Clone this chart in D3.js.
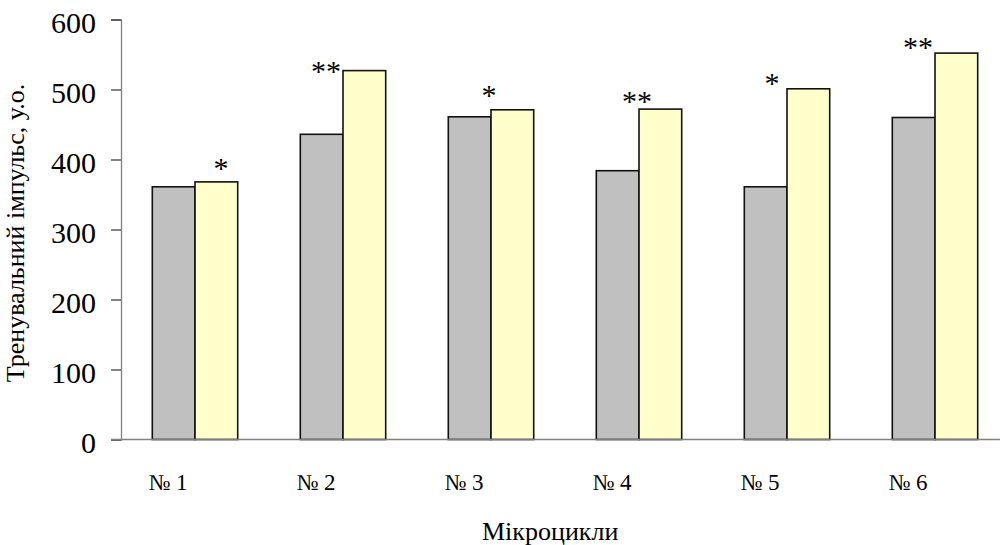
<!DOCTYPE html>
<html>
<head>
<meta charset="utf-8">
<script src="https://cdn.jsdelivr.net/npm/d3@7"></script>
<style>
  body { margin: 0; background: #fff; }
  text { font-family: "Liberation Serif", "Times New Roman", serif; fill: #000; }
</style>
</head>
<body>
<svg id="chart" width="1000" height="545"></svg>
<script>
// categories (microcycles)
let cats = ["№ 1", "№ 2", "№ 3", "№ 4", "№ 5", "№ 6"];
// two series of training impulse, c.u.
let before = [361, 436, 461, 384, 361, 460];
let after = [368, 527, 471, 472, 501, 552];
// significance marks above the bars
let marks = ["*", "**", "*", "**", "*", "**"];
let yTicks = [0, 100, 200, 300, 400, 500, 600];

let svg = d3.select("#chart");

let x0 = d3.scaleBand().domain(cats).range([121, 1009])
    .paddingInner(0.423).paddingOuter(0.2115);
let x1 = d3.scaleBand().domain(["before", "after"]).range([0, x0.bandwidth()]);
let y = d3.scaleLinear().domain([0, 600]).range([439.5, 19.5]);

// y axis
let yAxis = svg.append("g").attr("transform", "translate(121,0)")
    .call(d3.axisLeft(y).tickValues(yTicks).tickSize(10).tickPadding(15));
yAxis.select(".domain").attr("stroke", "#808080").attr("stroke-width", 1.3);
yAxis.selectAll(".tick line").attr("stroke", "#404040").attr("stroke-width", 1.3);
yAxis.selectAll(".tick text")
    .attr("dy", "0.42em")
    .style("font-size", "30px")
    .style("font-family", "'Liberation Serif', serif");

// bars
let groups = svg.append("g").selectAll("g").data(cats).enter().append("g")
    .attr("transform", function(d) { return "translate(" + x0(d) + ",0)"; });

groups.append("rect")
    .attr("x", x1("before"))
    .attr("y", function(d, i) { return y(before[i]); })
    .attr("width", x1.bandwidth())
    .attr("height", function(d, i) { return y(0) - y(before[i]); })
    .attr("fill", "#c0c0c0").attr("stroke", "#111").attr("stroke-width", 1.6);

groups.append("rect")
    .attr("x", x1("after"))
    .attr("y", function(d, i) { return y(after[i]); })
    .attr("width", x1.bandwidth())
    .attr("height", function(d, i) { return y(0) - y(after[i]); })
    .attr("fill", "#ffffcc").attr("stroke", "#111").attr("stroke-width", 1.6);

// x axis line
svg.append("line")
    .attr("x1", 111).attr("x2", 1000)
    .attr("y1", y(0)).attr("y2", y(0))
    .attr("stroke", "#808080").attr("stroke-width", 1.6);

// x labels
svg.append("g").selectAll("text").data(cats).enter().append("text")
    .attr("x", function(d) { return x0(d) + x0.bandwidth() / 2 - 27; })
    .attr("y", 490)
    .attr("text-anchor", "middle")
    .style("font-size", "23px")
    .text(function(d) { return d; });

// stars, nudged like the hand placed boxes of the original
let markDx = [26, -17, -2, -2, -15, -17];
let markGap = [12, -2, 13, 6, 4, 4];
svg.append("g").selectAll("text").data(marks).enter().append("text")
    .attr("x", function(d, i) { return x0(cats[i]) + x0.bandwidth() / 2 + markDx[i]; })
    .attr("y", function(d, i) { return y(after[i]) - markGap[i] + 8; })
    .attr("text-anchor", "middle")
    .style("font-size", "30px")
    .text(function(d) { return d; });

// axis titles
svg.append("text")
    .attr("transform", "translate(24,233) rotate(-90)")
    .attr("text-anchor", "middle")
    .style("font-size", "26px")
    .text("Тренувальний імпульс, у.о.");

svg.append("text")
    .attr("x", 482).attr("y", 540)
    .style("font-size", "26px")
    .text("Мікроцикли");
</script>
</body>
</html>
